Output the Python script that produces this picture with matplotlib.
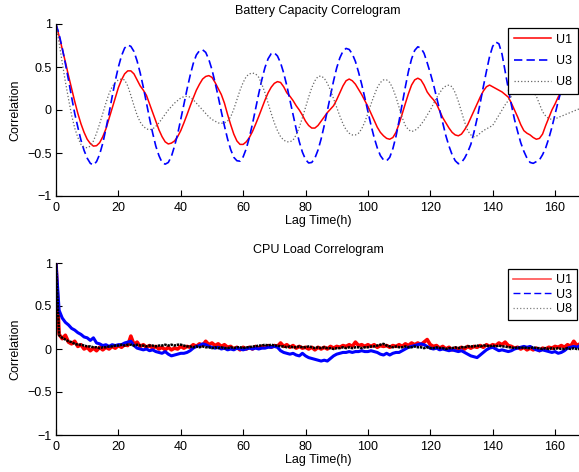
import matplotlib
matplotlib.use("Agg")
import matplotlib.pyplot as plt
from matplotlib.lines import Line2D

plt.rcParams['font.family'] = ['Liberation Sans', 'DejaVu Sans']
plt.rcParams['font.size'] = 9

# ---------------- data ----------------
lag_hours = list(range(0, 169))

series_names = ["U1", "U3", "U8"]
y_ticks = [-1, -0.5, 0, 0.5, 1]
y_tick_labels = ["\u22121", "\u22120.5", "0", "0.5", "1"]
x_ticks = [0, 20, 40, 60, 80, 100, 120, 140, 160]

battery_u1 = [
    1.00, 0.86, 0.71, 0.56, 0.40, 0.25, 0.10, -0.04, -0.16, -0.26,
    -0.34, -0.39, -0.42, -0.415, -0.38, -0.31, -0.22, -0.10, 0.02, 0.14,
    0.26, 0.35, 0.42, 0.455, 0.455, 0.42, 0.35, 0.28, 0.23, 0.17,
    0.07, -0.03, -0.13, -0.23, -0.31, -0.37, -0.395, -0.385, -0.36, -0.31,
    -0.24, -0.15, -0.055, 0.045, 0.14, 0.23, 0.30, 0.36, 0.39, 0.40,
    0.38, 0.32, 0.25, 0.18, 0.08, -0.05, -0.17, -0.28, -0.36, -0.40,
    -0.40, -0.37, -0.32, -0.25, -0.165, -0.075, 0.02, 0.115, 0.20, 0.265,
    0.31, 0.33, 0.32, 0.27, 0.20, 0.16, 0.11, 0.05, 0.00, -0.06,
    -0.13, -0.18, -0.21, -0.21, -0.18, -0.13, -0.08, -0.03, 0.01, 0.05,
    0.12, 0.20, 0.28, 0.34, 0.36, 0.34, 0.30, 0.24, 0.18, 0.11,
    0.04, -0.04, -0.12, -0.20, -0.26, -0.30, -0.33, -0.34, -0.32, -0.26,
    -0.16, -0.045, 0.075, 0.19, 0.29, 0.35, 0.37, 0.35, 0.29, 0.21,
    0.16, 0.12, 0.07, -0.01, -0.09, -0.15, -0.21, -0.26, -0.29, -0.30,
    -0.28, -0.23, -0.17, -0.09, -0.01, 0.07, 0.15, 0.22, 0.27, 0.29,
    0.27, 0.25, 0.23, 0.21, 0.18, 0.15, 0.08, 0.00, -0.08, -0.17,
    -0.24, -0.27, -0.29, -0.32, -0.34, -0.33, -0.28, -0.18, -0.09, 0.00,
    0.07, 0.15, 0.21, 0.26, 0.31, 0.35, 0.38, 0.40, 0.41,
]

battery_u3 = [
    1.00, 0.88, 0.72, 0.54, 0.35, 0.15, -0.04, -0.20, -0.35, -0.47,
    -0.56, -0.62, -0.64, -0.60, -0.515, -0.386, -0.22, -0.04, 0.155, 0.34,
    0.50, 0.63, 0.72, 0.755, 0.74, 0.68, 0.57, 0.43, 0.265, 0.08,
    -0.10, -0.27, -0.42, -0.53, -0.61, -0.63, -0.61, -0.54, -0.42, -0.28,
    -0.11, 0.064, 0.24, 0.40, 0.54, 0.64, 0.69, 0.70, 0.67, 0.587,
    0.47, 0.32, 0.157, -0.018, -0.185, -0.336, -0.46, -0.55, -0.59, -0.595,
    -0.545, -0.45, -0.318, -0.16, 0.016, 0.19, 0.354, 0.494, 0.596, 0.655,
    0.665, 0.628, 0.548, 0.43, 0.283, 0.118, -0.053, -0.22, -0.37, -0.49,
    -0.575, -0.616, -0.61, -0.56, -0.466, -0.337, -0.18, -0.005, 0.172, 0.34,
    0.49, 0.606, 0.684, 0.716, 0.704, 0.652, 0.564, 0.44, 0.30, 0.144,
    -0.019, -0.178, -0.32, -0.44, -0.53, -0.58, -0.592, -0.55, -0.45, -0.307,
    -0.125, 0.0715, 0.268, 0.45, 0.594, 0.693, 0.735, 0.72, 0.66, 0.55,
    0.43, 0.30, 0.15, 0.00, -0.15, -0.30, -0.42, -0.52, -0.59, -0.625,
    -0.61, -0.56, -0.49, -0.40, -0.26, -0.10, 0.08, 0.27, 0.45, 0.62,
    0.74, 0.79, 0.77, 0.65, 0.45, 0.25, 0.06, -0.11, -0.25, -0.38,
    -0.48, -0.56, -0.61, -0.62, -0.60, -0.58, -0.52, -0.44, -0.33, -0.20,
    -0.05, 0.10, 0.23, 0.34, 0.43, 0.50, 0.55, 0.58, 0.60,
]

battery_u8 = [
    1.00, 0.78, 0.55, 0.33, 0.13, -0.06, -0.21, -0.32, -0.40, -0.43,
    -0.44, -0.42, -0.36, -0.27, -0.16, -0.04, 0.08, 0.19, 0.27, 0.32,
    0.35, 0.36, 0.35, 0.28, 0.17, 0.05, -0.06, -0.14, -0.19, -0.22,
    -0.23, -0.22, -0.19, -0.15, -0.10, -0.05, 0.00, 0.04, 0.08, 0.11,
    0.14, 0.155, 0.16, 0.15, 0.12, 0.08, 0.04, 0.00, -0.04, -0.08,
    -0.11, -0.13, -0.15, -0.155, -0.15, -0.13, -0.08, 0.01, 0.12, 0.23,
    0.32, 0.39, 0.42, 0.43, 0.42, 0.38, 0.30, 0.20, 0.08, -0.04,
    -0.15, -0.24, -0.31, -0.35, -0.37, -0.37, -0.35, -0.29, -0.20, -0.09,
    0.03, 0.15, 0.26, 0.34, 0.39, 0.395, 0.37, 0.31, 0.23, 0.13,
    0.03, -0.07, -0.16, -0.23, -0.27, -0.29, -0.29, -0.27, -0.22, -0.14,
    -0.04, 0.07, 0.17, 0.26, 0.32, 0.35, 0.35, 0.32, 0.25, 0.15,
    0.03, -0.09, -0.18, -0.23, -0.25, -0.24, -0.21, -0.17, -0.12, -0.06,
    0.00, 0.07, 0.14, 0.20, 0.25, 0.28, 0.29, 0.27, 0.20, 0.10,
    -0.02, -0.14, -0.24, -0.29, -0.31, -0.30, -0.27, -0.24, -0.22, -0.20,
    -0.18, -0.12, -0.06, 0.00, 0.06, 0.11, 0.16, 0.20, 0.23, 0.25,
    0.25, 0.25, 0.24, 0.21, 0.16, 0.07, -0.02, -0.07, -0.10, -0.11,
    -0.10, -0.09, -0.07, -0.06, -0.04, -0.03, -0.01, 0.00, 0.02,
]

cpu_u1 = [
    1.00, 0.17, 0.12, 0.16, 0.08, 0.06, 0.09, 0.03, 0.05, 0.00,
    0.02, -0.02, 0.01, -0.02, 0.02, -0.01, 0.02, 0.00, 0.03, 0.01,
    0.04, 0.02, 0.05, 0.04, 0.15, 0.05, 0.08, 0.03, 0.05, 0.02,
    0.04, 0.01, 0.03, 0.00, 0.02, -0.01, 0.02, -0.01, 0.01, 0.00,
    0.03, 0.01, 0.03, 0.02, 0.05, 0.03, 0.06, 0.04, 0.09, 0.05,
    0.07, 0.04, 0.06, 0.03, 0.05, 0.02, 0.03, 0.00, 0.02, -0.01,
    0.02, 0.00, 0.02, 0.00, 0.03, 0.01, 0.03, 0.02, 0.04, 0.02,
    0.04, 0.03, 0.07, 0.03, 0.05, 0.02, 0.04, 0.01, 0.03, 0.01,
    0.02, 0.00, 0.02, -0.01, 0.02, 0.00, 0.02, 0.00, 0.03, 0.01,
    0.03, 0.02, 0.04, 0.03, 0.05, 0.03, 0.08, 0.04, 0.05, 0.03,
    0.05, 0.03, 0.05, 0.02, 0.04, 0.03, 0.04, 0.02, 0.04, 0.03,
    0.05, 0.03, 0.06, 0.04, 0.07, 0.05, 0.07, 0.05, 0.08, 0.11,
    0.05, 0.03, 0.04, 0.01, 0.03, 0.00, 0.02, -0.01, 0.01, 0.00,
    0.02, 0.00, 0.03, 0.01, 0.03, 0.02, 0.04, 0.02, 0.05, 0.03,
    0.05, 0.04, 0.07, 0.05, 0.08, 0.04, 0.03, 0.01, 0.02, 0.00,
    0.02, -0.01, 0.01, -0.01, 0.01, -0.02, 0.01, 0.00, 0.02, 0.01,
    0.03, 0.02, 0.04, 0.02, 0.05, 0.03, 0.09, 0.04, 0.06,
]

cpu_u3 = [
    1.00, 0.45, 0.36, 0.31, 0.28, 0.24, 0.22, 0.19, 0.17, 0.14,
    0.13, 0.10, 0.13, 0.07, 0.06, 0.04, 0.05, 0.03, 0.05, 0.04,
    0.05, 0.05, 0.07, 0.08, 0.09, 0.04, 0.01, 0.00, -0.01, 0.00,
    -0.02, -0.01, -0.03, -0.04, -0.05, -0.03, -0.06, -0.08, -0.07, -0.06,
    -0.05, -0.05, -0.04, -0.02, 0.01, 0.03, 0.04, 0.06, 0.05, 0.03,
    0.02, 0.01, 0.02, 0.00, 0.01, -0.01, 0.00, -0.01, 0.01, 0.00,
    -0.01, 0.00, 0.01, 0.00, 0.01, 0.00, 0.01, 0.01, 0.02, 0.02,
    0.03, 0.02, -0.02, -0.04, -0.05, -0.06, -0.05, -0.07, -0.08, -0.05,
    -0.08, -0.10, -0.11, -0.12, -0.13, -0.14, -0.13, -0.14, -0.11, -0.08,
    -0.06, -0.05, -0.04, -0.04, -0.03, -0.04, -0.03, -0.03, -0.02, -0.03,
    -0.03, -0.02, -0.03, -0.04, -0.06, -0.07, -0.05, -0.07, -0.05, -0.04,
    -0.04, -0.02, 0.00, 0.02, 0.03, 0.04, 0.05, 0.06, 0.05, 0.03,
    0.01, 0.00, 0.01, -0.01, 0.00, -0.01, -0.02, -0.01, -0.02, -0.03,
    -0.02, -0.04, -0.06, -0.08, -0.09, -0.10, -0.07, -0.04, -0.01, 0.01,
    0.02, 0.00, -0.02, -0.01, -0.02, -0.03, -0.02, 0.00, 0.01, 0.02,
    0.03, 0.02, 0.03, 0.01, -0.01, -0.02, -0.01, -0.02, -0.03, -0.04,
    -0.03, -0.05, -0.04, -0.02, 0.01, 0.02, 0.03, 0.02, 0.04,
]

cpu_u8 = [
    1.00, 0.16, 0.13, 0.11, 0.09, 0.08, 0.06, 0.05, 0.05, 0.04,
    0.03, 0.03, 0.02, 0.02, 0.01, 0.02, 0.02, 0.03, 0.03, 0.04,
    0.04, 0.05, 0.04, 0.05, 0.05, 0.04, 0.05, 0.04, 0.04, 0.03,
    0.04, 0.04, 0.03, 0.04, 0.04, 0.05, 0.04, 0.05, 0.04, 0.05,
    0.05, 0.04, 0.03, 0.03, 0.02, 0.03, 0.02, 0.03, 0.02, 0.02,
    0.01, 0.02, 0.01, 0.02, 0.01, 0.01, 0.02, 0.01, 0.02, 0.02,
    0.01, 0.02, 0.02, 0.03, 0.03, 0.04, 0.04, 0.05, 0.04, 0.05,
    0.04, 0.04, 0.03, 0.03, 0.02, 0.03, 0.02, 0.02, 0.03, 0.02,
    0.02, 0.03, 0.02, 0.01, 0.02, 0.01, 0.02, 0.01, 0.01, 0.00,
    0.01, 0.01, 0.02, 0.01, 0.02, 0.01, 0.02, 0.02, 0.01, 0.02,
    0.02, 0.03, 0.03, 0.04, 0.05, 0.06, 0.04, 0.03, 0.02, 0.03,
    0.02, 0.02, 0.03, 0.02, 0.02, 0.03, 0.02, 0.02, 0.01, 0.02,
    0.01, 0.01, 0.02, 0.01, 0.01, 0.00, 0.01, 0.01, 0.02, 0.01,
    0.02, 0.02, 0.03, 0.03, 0.03, 0.04, 0.03, 0.04, 0.04, 0.03,
    0.04, 0.03, 0.04, 0.03, 0.03, 0.02, 0.02, 0.01, 0.02, 0.01,
    0.02, 0.01, 0.01, 0.02, 0.01, 0.01, 0.00, 0.01, 0.00, 0.01,
    0.00, 0.01, 0.00, 0.00, 0.01, 0.00, 0.01, 0.00, 0.00,
]

# ---------------- figure ----------------
W, H = 579, 472
fig = plt.figure(figsize=(W / 100, H / 100), dpi=100)

ax1 = fig.add_axes([56 / W, 1 - 196 / H, 524 / W, 172 / H])
ax2 = fig.add_axes([56 / W, 1 - 435 / H, 524 / W, 172 / H])


def style_axis(ax, title):
    ax.set_xlim(0, 168)
    ax.set_ylim(-1, 1)
    ax.set_xticks(x_ticks)
    ax.set_yticks(y_ticks)
    ax.set_yticklabels(y_tick_labels)
    ax.spines['top'].set_visible(False)
    ax.spines['right'].set_visible(False)
    for s in ('left', 'bottom'):
        ax.spines[s].set_linewidth(0.9)
    ax.tick_params(direction='in', length=4, width=0.8, labelsize=9)
    ax.tick_params(axis='y', pad=3)
    ax.tick_params(axis='x', pad=4)
    ax.set_title(title, fontsize=9, pad=7)
    ax.set_xlabel("Lag Time(h)", fontsize=9, labelpad=1)
    ax.set_ylabel("Correlation", fontsize=9, labelpad=4)


# top: battery
ax1.plot(lag_hours, battery_u1, color='red', lw=1.1, label=series_names[0])
ax1.plot(lag_hours, battery_u3, color='blue', lw=1.2, linestyle='--',
         dashes=(5, 2.5), label=series_names[1])
ax1.plot(lag_hours, battery_u8, color='0.4', lw=0.9, linestyle=':',
         label=series_names[2])
style_axis(ax1, "Battery Capacity Correlogram")

leg1 = ax1.legend(loc='upper right', bbox_to_anchor=(578 / W, 1 - 28 / H),
                  bbox_transform=fig.transFigure, borderaxespad=0,
                  fancybox=False, edgecolor='black', framealpha=1,
                  handlelength=3.0, labelspacing=0.75, borderpad=0.45,
                  handletextpad=0.4, fontsize=9)
leg1.get_frame().set_linewidth(0.9)

# bottom: cpu load
ax2.plot(lag_hours, cpu_u1, color='red', lw=2.6)
ax2.plot(lag_hours, cpu_u3, color='blue', lw=2.2)
ax2.plot(lag_hours, cpu_u8, color='black', lw=1.8, linestyle=(0, (1, 0.3)))
style_axis(ax2, "CPU Load Correlogram")

handles2 = [
    Line2D([], [], color='#ff5050', lw=1.2),
    Line2D([], [], color='blue', lw=1.0, linestyle='--', dashes=(5, 2.5)),
    Line2D([], [], color='0.5', lw=0.9, linestyle=':'),
]
leg2 = ax2.legend(handles2, series_names, loc='upper right',
                  bbox_to_anchor=(577 / W, 1 - 269 / H),
                  bbox_transform=fig.transFigure, borderaxespad=0,
                  fancybox=False, edgecolor='black', framealpha=1,
                  handlelength=3.0, labelspacing=0.2, borderpad=0.4,
                  handletextpad=0.4, fontsize=9)
leg2.get_frame().set_linewidth(0.9)

fig.savefig("out.png", dpi=100)
